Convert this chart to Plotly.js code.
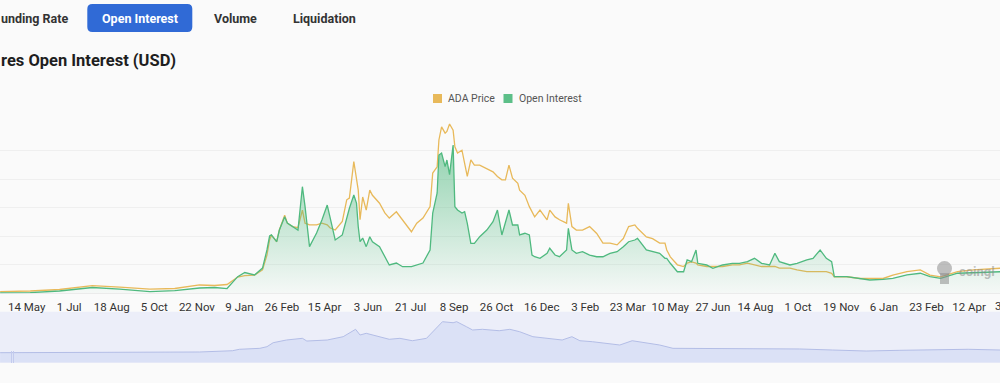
<!DOCTYPE html>
<html>
<head>
<meta charset="utf-8">
<script src="https://cdn.plot.ly/plotly-3.0.1.min.js"></script>
<style>
html,body{margin:0;padding:0;background:#fafafa;}
#chart{width:1000px;height:383px;}
</style>
</head>
<body>
<div id="chart"></div>
<script>
// ---------- data ----------
const dates = ['2020-04-14','2020-05-18','2020-06-20','2020-07-27','2020-08-27','2020-09-30','2020-10-28','2020-11-25','2020-12-12','2020-12-26',
'2021-01-07','2021-01-15','2021-01-26','2021-02-04','2021-02-09','2021-02-12','2021-02-14','2021-02-20','2021-02-23','2021-03-01',
'2021-03-04','2021-03-10','2021-03-16','2021-03-21','2021-03-24','2021-03-29','2021-04-06','2021-04-12','2021-04-18','2021-04-21',
'2021-04-27','2021-05-05','2021-05-10','2021-05-13','2021-05-18','2021-05-21','2021-05-23','2021-05-25','2021-05-28','2021-06-01',
'2021-06-05','2021-06-08','2021-06-16','2021-06-22','2021-06-27','2021-07-05','2021-07-12','2021-07-22','2021-07-28','2021-08-04',
'2021-08-12','2021-08-15','2021-08-20','2021-08-22','2021-08-25','2021-08-29','2021-08-31','2021-09-03','2021-09-07','2021-09-09',
'2021-09-12','2021-09-17','2021-09-20','2021-09-23','2021-09-27','2021-10-01','2021-10-07','2021-10-15','2021-10-22','2021-10-27',
'2021-11-01','2021-11-05','2021-11-09','2021-11-13','2021-11-19','2021-11-21','2021-11-27','2021-12-02','2021-12-05','2021-12-08',
'2021-12-14','2021-12-22','2021-12-25','2021-12-31','2022-01-05','2022-01-13','2022-01-15','2022-01-19','2022-01-24','2022-01-31',
'2022-02-08','2022-02-16','2022-02-23','2022-03-03','2022-03-11','2022-03-18','2022-03-24','2022-03-31','2022-04-03','2022-04-13',
'2022-04-20','2022-04-28','2022-05-04','2022-05-06','2022-05-10','2022-05-18','2022-05-25','2022-05-29','2022-06-03','2022-06-08',
'2022-06-10','2022-06-20','2022-06-27','2022-07-08','2022-07-19','2022-07-27','2022-08-05','2022-08-13','2022-08-21','2022-08-30',
'2022-09-05','2022-09-10','2022-09-22','2022-09-30','2022-10-11','2022-10-18','2022-10-26','2022-11-02','2022-11-08','2022-11-11',
'2022-11-25','2022-12-10','2022-12-21','2023-01-05','2023-01-16','2023-02-01','2023-02-16','2023-02-27','2023-03-11','2023-03-30',
'2023-04-17','2023-05-17'];

const adaPrice = [0.028,0.040,0.067,0.133,0.110,0.075,0.084,0.146,0.137,0.154,
0.286,0.310,0.320,0.410,0.670,0.940,1.020,0.905,1.110,1.370,
1.230,1.170,1.150,1.460,1.230,1.200,1.200,1.230,1.200,1.150,
1.110,1.260,1.640,1.670,2.310,2.050,1.810,1.290,1.690,1.460,
1.810,1.720,1.580,1.410,1.320,1.430,1.290,1.080,1.230,1.320,
1.520,2.110,2.220,2.690,2.920,2.810,2.840,2.970,2.860,2.570,
2.460,2.510,2.280,2.050,2.340,2.250,2.250,2.190,2.130,2.050,
1.990,1.990,2.250,2.020,1.930,1.810,1.720,1.520,1.430,1.340,
1.460,1.290,1.460,1.340,1.290,1.230,1.580,1.170,1.110,1.110,
1.170,1.050,0.880,0.880,0.850,0.960,1.170,1.200,1.140,0.990,
0.960,0.880,0.880,0.760,0.640,0.500,0.470,0.530,0.550,0.530,
0.500,0.470,0.470,0.470,0.500,0.500,0.530,0.500,0.470,0.470,
0.470,0.440,0.440,0.410,0.380,0.380,0.380,0.380,0.350,0.290,
0.290,0.260,0.260,0.260,0.320,0.380,0.410,0.320,0.290,0.380,
0.410,0.440];

// open interest, million USD
const openInterest = [3,8,24,61,45,17,29,56,61,50,
175,219,193,266,456,603,614,543,666,806,
740,701,666,1122,912,491,635,772,929,806,
561,614,806,895,1035,950,701,543,582,491,
596,543,491,385,298,319,280,280,298,319,
456,845,1056,1456,1477,1333,1403,1250,1561,912,
877,845,859,737,526,526,596,666,754,877,
614,754,877,719,719,614,632,614,403,385,
368,421,474,403,385,456,684,456,421,438,
403,385,385,421,438,491,543,561,579,456,
438,421,368,368,316,227,227,351,333,456,
316,298,263,298,316,316,333,368,316,298,
421,333,298,316,351,368,456,368,333,175,
175,158,140,147,158,193,211,175,158,211,
217,227];

// overview (range slider) series, relative units
const sliderDates = ['2020-04-14','2020-08-04','2020-11-25','2021-01-01','2021-01-09','2021-02-01','2021-02-09','2021-02-16','2021-03-03','2021-03-21',
'2021-03-26','2021-04-18','2021-05-06','2021-05-20','2021-05-25','2021-06-01','2021-06-12','2021-06-27','2021-07-09','2021-07-23',
'2021-08-08','2021-08-15','2021-08-26','2021-09-07','2021-09-11','2021-09-22','2021-09-29','2021-10-10','2021-10-29','2021-11-10',
'2021-11-21','2021-12-06','2021-12-25','2022-01-08','2022-01-19','2022-01-28','2022-02-11','2022-03-03','2022-03-14','2022-03-28',
'2022-04-13','2022-04-28','2022-05-13','2022-06-12','2022-07-19','2022-08-26','2022-10-03','2022-11-09','2022-12-17','2023-01-24',
'2023-03-03','2023-04-11','2023-05-17'];
const sliderValues = [0.196,0.200,0.210,0.235,0.263,0.282,0.314,0.392,0.445,0.478,
0.425,0.445,0.510,0.655,0.543,0.576,0.524,0.459,0.478,0.431,
0.478,0.608,0.804,0.784,0.804,0.706,0.641,0.655,0.627,0.655,
0.608,0.510,0.478,0.445,0.510,0.431,0.412,0.361,0.347,0.431,
0.392,0.347,0.282,0.282,0.275,0.282,0.269,0.249,0.229,0.243,
0.249,0.263,0.249];

const tickDates = ['2020-05-14','2020-07-01','2020-08-18','2020-10-05','2020-11-22','2021-01-09','2021-02-26','2021-04-15','2021-06-03','2021-07-21',
'2021-09-08','2021-10-26','2021-12-16','2022-02-03','2022-03-23','2022-05-10','2022-06-27','2022-08-14','2022-10-01','2022-11-19',
'2023-01-06','2023-02-23','2023-04-12'];
const tickLabels = ['14 May','1 Jul','18 Aug','5 Oct','22 Nov','9 Jan','26 Feb','15 Apr','3 Jun','21 Jul',
'8 Sep','26 Oct','16 Dec','3 Feb','23 Mar','10 May','27 Jun','14 Aug','1 Oct','19 Nov',
'6 Jan','23 Feb','12 Apr'];
// visible part of the next (clipped) tick label at the right edge
const edgeTickLabel = '3';

// tab and title texts as visible in the cropped view
const tabLabels = ['unding Rate','Open Interest','Volume','Liquidation'];
const titleText = 'res Open Interest (USD)';
const seriesNames = ['ADA Price','Open Interest'];
const watermarkText = 'coingl';

// ---------- layout helpers ----------
const W = 1000, H = 383;
const px = x => x / W;
const py = y => 1 - y / H;
const FONT = 'Roboto, Inter, sans-serif';
const ORANGE = '#e8b95a';
const GREEN = '#4fb97f';

function roundRect(x0, y0, x1, y1, r) {
  const X = v => px(v).toFixed(5), Y = v => py(v).toFixed(5);
  return 'M' + X(x0 + r) + ',' + Y(y0) +
    ' L' + X(x1 - r) + ',' + Y(y0) + ' Q' + X(x1) + ',' + Y(y0) + ' ' + X(x1) + ',' + Y(y0 + r) +
    ' L' + X(x1) + ',' + Y(y1 - r) + ' Q' + X(x1) + ',' + Y(y1) + ' ' + X(x1 - r) + ',' + Y(y1) +
    ' L' + X(x0 + r) + ',' + Y(y1) + ' Q' + X(x0) + ',' + Y(y1) + ' ' + X(x0) + ',' + Y(y1 - r) +
    ' L' + X(x0) + ',' + Y(y0 + r) + ' Q' + X(x0) + ',' + Y(y0) + ' ' + X(x0 + r) + ',' + Y(y0) + ' Z';
}

const traces = [
  {
    name: seriesNames[1], x: dates, y: openInterest, yaxis: 'y2', type: 'scatter', mode: 'lines',
    line: {color: GREEN, width: 1.3},
    fill: 'tozeroy',
    fillgradient: {type: 'vertical', start: 0, stop: 1600,
      colorscale: [[0, 'rgba(79,185,127,0.03)'], [1, 'rgba(79,185,127,0.62)']]},
    hoverinfo: 'skip'
  },
  {
    name: seriesNames[0], x: dates, y: adaPrice, yaxis: 'y', type: 'scatter', mode: 'lines',
    line: {color: ORANGE, width: 1.3}, hoverinfo: 'skip'
  },
  {
    name: 'overview', x: sliderDates, y: sliderValues, yaxis: 'y3', type: 'scatter', mode: 'lines',
    line: {color: '#b3bde6', width: 1}, fill: 'tozeroy', fillcolor: '#dbe1f6', hoverinfo: 'skip'
  }
];

const axisFont = {family: FONT, size: 11.5, color: '#333'};
const tabFont = c => ({family: FONT, size: 12.5, color: c});

const annotations = [
  {text: '<b>' + tabLabels[0] + '</b>', x: px(-1), y: py(18.5), xanchor: 'left', yanchor: 'middle', font: tabFont('#333')},
  {text: '<b>' + tabLabels[1] + '</b>', x: px(140), y: py(18.5), xanchor: 'center', yanchor: 'middle', font: tabFont('#ffffff')},
  {text: '<b>' + tabLabels[2] + '</b>', x: px(235.7), y: py(18.5), xanchor: 'center', yanchor: 'middle', font: tabFont('#333')},
  {text: '<b>' + tabLabels[3] + '</b>', x: px(324.3), y: py(18.5), xanchor: 'center', yanchor: 'middle', font: tabFont('#333')},
  {text: '<b>' + titleText + '</b>', x: px(-1), y: py(60.5), xanchor: 'left', yanchor: 'middle', font: {family: FONT, size: 16.5, color: '#1e1e1e'}},
  {text: seriesNames[0], x: px(446), y: py(98.5), xanchor: 'left', yanchor: 'middle', font: {family: FONT, size: 10.5, color: '#555'}},
  {text: seriesNames[1], x: px(516.5), y: py(98.5), xanchor: 'left', yanchor: 'middle', font: {family: FONT, size: 10.5, color: '#555'}},
  {text: edgeTickLabel, x: px(993), y: py(305.5), xanchor: 'left', yanchor: 'middle', font: axisFont},
  {text: '<b>' + watermarkText + '</b>', x: px(957), y: py(271.5), xanchor: 'left', yanchor: 'middle', font: {family: FONT, size: 13, color: 'rgba(140,140,140,0.55)'}}
];
annotations.forEach(a => { a.xref = 'paper'; a.yref = 'paper'; a.showarrow = false; });

const shapes = [
  // overview band
  {type: 'rect', xref: 'paper', yref: 'paper', x0: 0, x1: 1, y0: py(362.7), y1: py(311.7), fillcolor: '#eceef9', line: {width: 0}, layer: 'below'},
  // handle
  {type: 'line', xref: 'paper', yref: 'paper', x0: px(11.5), x1: px(11.5), y0: py(363), y1: py(351), line: {color: '#c3cbee', width: 1}},
  {type: 'line', xref: 'paper', yref: 'paper', x0: px(13.5), x1: px(13.5), y0: py(363), y1: py(351), line: {color: '#c3cbee', width: 1}},
  // active tab button
  {type: 'path', xref: 'paper', yref: 'paper', path: roundRect(87.3, 4, 192.3, 32, 5), fillcolor: '#306ad6', line: {width: 0}, layer: 'below'},
  // legend squares
  {type: 'rect', xref: 'paper', yref: 'paper', x0: px(433), x1: px(442), y0: py(103), y1: py(94), fillcolor: ORANGE, line: {width: 0}},
  {type: 'rect', xref: 'paper', yref: 'paper', x0: px(503.5), x1: px(512.5), y0: py(103), y1: py(94), fillcolor: '#5cbf88', line: {width: 0}},
  // watermark logo
  {type: 'circle', xref: 'paper', yref: 'paper', x0: px(937), x1: px(952), y0: py(276), y1: py(261), fillcolor: 'rgba(140,140,140,0.55)', line: {width: 0}},
  {type: 'rect', xref: 'paper', yref: 'paper', x0: px(940), x1: px(949), y0: py(284), y1: py(273), fillcolor: 'rgba(140,140,140,0.55)', line: {width: 0}}
];

const layout = {
  width: W, height: H,
  margin: {l: 0, r: 0, t: 0, b: 0, pad: 0},
  paper_bgcolor: '#fafafa', plot_bgcolor: 'rgba(0,0,0,0)',
  showlegend: false,
  font: {family: FONT},
  xaxis: {
    type: 'date', range: ['2020-04-13 21:00', '2023-05-16 22:00'], domain: [0, 1], anchor: 'y',
    tickmode: 'array', tickvals: tickDates, ticktext: tickLabels,
    showgrid: false, zeroline: false, showline: false, ticks: '', ticklen: 0, ticklabelstandoff: 5,
    tickfont: axisFont, fixedrange: true
  },
  yaxis: {
    domain: [py(293.3), py(122.3)], range: [0, 3], dtick: 0.5, tick0: 0,
    showticklabels: false, ticks: '', gridcolor: '#efefef', gridwidth: 1,
    zeroline: true, zerolinecolor: '#ebebeb', zerolinewidth: 1, showline: false, fixedrange: true
  },
  yaxis2: {
    overlaying: 'y', range: [0, 1800], showgrid: false, showticklabels: false, ticks: '',
    zeroline: false, showline: false, fixedrange: true
  },
  yaxis3: {
    domain: [py(362.7), py(311.7)], range: [0, 1], anchor: 'x',
    showgrid: false, showticklabels: false, ticks: '', zeroline: false, showline: false, fixedrange: true
  },
  shapes: shapes,
  annotations: annotations
};

Plotly.newPlot('chart', traces, layout, {staticPlot: true, displayModeBar: false});
</script>
</body>
</html>
